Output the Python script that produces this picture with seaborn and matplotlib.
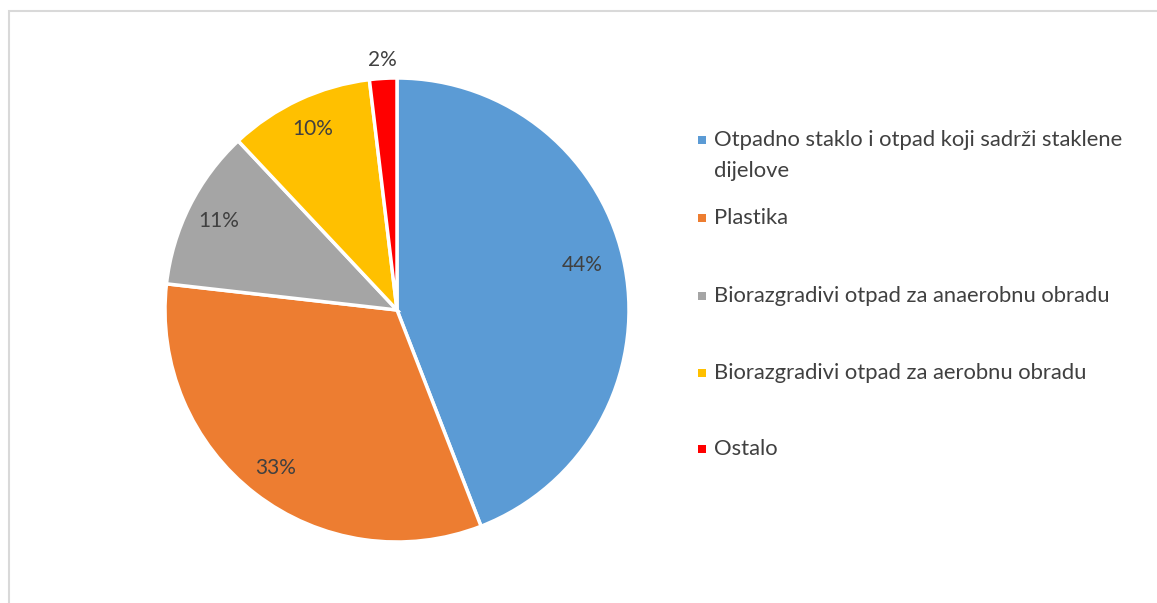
import matplotlib
matplotlib.use("Agg")
import numpy as np
import matplotlib.pyplot as plt
import seaborn as sns
from matplotlib.patches import Rectangle

# data (percent shares)
categories = [
    "Otpadno staklo i otpad koji sadrži staklene\ndijelove",
    "Plastika",
    "Biorazgradivi otpad za anaerobnu obradu",
    "Biorazgradivi otpad za aerobnu obradu",
    "Ostalo",
]
shares = [44.1, 32.7, 11.2, 10.1, 1.9]
colors = ["#5B9BD5", "#ED7D31", "#A5A5A5", "#FFC000", "#FF0000"]

sns.set_theme(style="white")
plt.rcParams['font.family'] = ['Lato', 'DejaVu Sans']
txt_color = "#404040"

W, H = 1157, 603
fig = plt.figure(figsize=(W / 100, H / 100), dpi=100)

# chart frame (light grey border, only left/top visible)
fig.patches.append(Rectangle((9 / W, -0.1), 1.2, 1.1 - 10.5 / H, transform=fig.transFigure,
                             fill=False, edgecolor="#d9d9d9", lw=1.5))

cx, cy, R = 397, 310, 232
ax = fig.add_axes([(cx - R) / W, (H - cy - R) / H, 2 * R / W, 2 * R / H])

wedges, texts, autotexts = ax.pie(
    shares, colors=colors, startangle=90, counterclock=False,
    autopct=lambda p: f"{p:.0f}%", pctdistance=0.86,
    wedgeprops=dict(edgecolor="white", linewidth=2.5),
    textprops=dict(color=txt_color, fontsize=15),
)
ax.set_xlim(-1, 1)
ax.set_ylim(-1, 1)
ax.set_aspect("equal")
ax.axis("off")

# label distances like the original (big slice a bit inward, tiny slice outside)
for i, (w, t) in enumerate(zip(wedges, autotexts)):
    ang = np.deg2rad((w.theta1 + w.theta2) / 2)
    d = 0.86
    if i == 0:
        d = 0.82
        ang = np.deg2rad(np.rad2deg(ang) + 3)
    if i == 4:
        d = 1.08
    t.set_position((d * np.cos(ang), d * np.sin(ang)))
    t.set_clip_on(False)

# legend, drawn by hand to mimic the office style
leg_y = [140, 218, 296, 373, 449]
for lab, col, y in zip(categories, colors, leg_y):
    fig.patches.append(Rectangle((698 / W, 1 - (y + 4) / H), 8 / W, 8 / H,
                                 transform=fig.transFigure, facecolor=col, edgecolor="none"))
    for k, line in enumerate(lab.split("\n")):
        fig.text(714 / W, 1 - (y + 31 * k) / H, line, ha="left", va="center",
                 fontsize=15.8, color=txt_color)

fig.savefig("out.png", dpi=100)
